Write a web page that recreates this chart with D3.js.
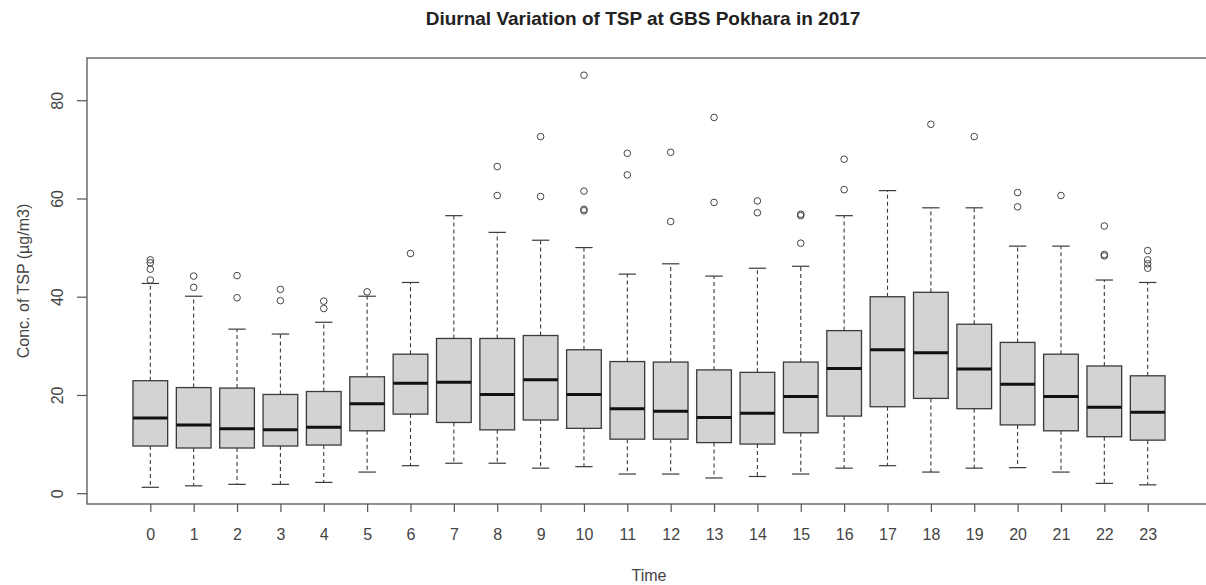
<!DOCTYPE html>
<html>
<head>
<meta charset="utf-8">
<script src="https://cdn.jsdelivr.net/npm/d3@7"></script>
<style>
  body { margin: 0; background: #fff; }
  text { font-family: "Liberation Sans", Arial, sans-serif; }
</style>
</head>
<body>
<div id="chart"></div>
<script>
// hourly boxplot stats (µg/m3)
var hours = d3.range(0, 24);
var lowWhisker = [1.2, 1.5, 1.8, 1.8, 2.2, 4.3, 5.6, 6.1, 6.1, 5.1, 5.4, 3.9, 3.9, 3.1, 3.4, 3.9, 5.1, 5.6, 4.3, 5.1, 5.2, 4.3, 2.0, 1.7];
var q1 = [9.6, 9.2, 9.2, 9.6, 9.8, 12.7, 16.1, 14.4, 12.9, 14.9, 13.2, 11.0, 11.0, 10.3, 10.0, 12.3, 15.7, 17.6, 19.3, 17.2, 13.9, 12.7, 11.5, 10.8];
var medians = [15.3, 13.9, 13.1, 12.9, 13.4, 18.2, 22.4, 22.6, 20.1, 23.1, 20.1, 17.2, 16.7, 15.4, 16.3, 19.7, 25.4, 29.2, 28.6, 25.3, 22.2, 19.7, 17.5, 16.5];
var q3 = [22.9, 21.5, 21.4, 20.1, 20.7, 23.7, 28.3, 31.5, 31.5, 32.1, 29.2, 26.8, 26.7, 25.1, 24.6, 26.7, 33.1, 40.0, 40.9, 34.4, 30.7, 28.3, 25.9, 23.9];
var highWhisker = [42.7, 40.1, 33.4, 32.4, 34.8, 40.1, 42.9, 56.5, 53.1, 51.5, 50.0, 44.6, 46.7, 44.2, 45.8, 46.2, 56.5, 61.6, 58.1, 58.1, 50.3, 50.3, 43.4, 42.9];
var outliers = [
  [47.5, 46.9, 45.6, 43.4],
  [44.2, 41.9],
  [44.3, 39.8],
  [41.5, 39.2],
  [39.1, 37.6],
  [41.0],
  [48.8],
  [],
  [66.5, 60.6],
  [72.6, 60.4],
  [85.1, 61.5, 57.8, 57.5],
  [69.2, 64.8],
  [69.4, 55.3],
  [76.5, 59.2],
  [59.5, 57.1],
  [56.8, 56.5, 50.9],
  [68.0, 61.8],
  [],
  [75.1],
  [72.6],
  [61.2, 58.3],
  [60.6],
  [54.4, 48.6, 48.3],
  [49.4, 47.5, 46.7, 45.8]
];
var yTicks = [0, 20, 40, 60, 80];

var width = 1206,
    height = 585;

var svg = d3.select("#chart")
    .append("svg")
    .attr("width", width)
    .attr("height", height);

var plotL = 87, plotR = 1211, plotT = 58, plotB = 504;

var x = d3.scaleLinear().domain([-1.46, 24.46]).range([plotL, plotR]);
var y = d3.scaleLinear().domain([-2.2, 88.6]).range([plotB, plotT]);

var boxW = x(0.4) - x(-0.4);
var capW = boxW / 2;
var ink = "#3a3a3a";

var data = hours.map(function(h, i) {
  return {h: h, lo: lowWhisker[i], q1: q1[i], med: medians[i], q3: q3[i], hi: highWhisker[i], out: outliers[i]};
});

var box = svg.append("g").selectAll("g.hour")
    .data(data)
    .enter().append("g")
    .attr("class", "hour");

/* whiskers */
box.append("line")
    .attr("x1", function(d) { return x(d.h); })
    .attr("x2", function(d) { return x(d.h); })
    .attr("y1", function(d) { return y(d.q3); })
    .attr("y2", function(d) { return y(d.hi); })
    .attr("stroke", ink).attr("stroke-width", 1.1).attr("stroke-dasharray", "4,3");
box.append("line")
    .attr("x1", function(d) { return x(d.h); })
    .attr("x2", function(d) { return x(d.h); })
    .attr("y1", function(d) { return y(d.q1); })
    .attr("y2", function(d) { return y(d.lo); })
    .attr("stroke", ink).attr("stroke-width", 1.1).attr("stroke-dasharray", "4,3");

/* staples */
["hi", "lo"].forEach(function(k) {
  box.append("line")
      .attr("x1", function(d) { return x(d.h) - capW / 2; })
      .attr("x2", function(d) { return x(d.h) + capW / 2; })
      .attr("y1", function(d) { return y(d[k]); })
      .attr("y2", function(d) { return y(d[k]); })
      .attr("stroke", ink).attr("stroke-width", 1.2);
});

/* boxes */
box.append("rect")
    .attr("x", function(d) { return x(d.h) - boxW / 2; })
    .attr("width", boxW)
    .attr("y", function(d) { return y(d.q3); })
    .attr("height", function(d) { return y(d.q1) - y(d.q3); })
    .attr("fill", "#d3d3d3")
    .attr("stroke", ink)
    .attr("stroke-width", 1.3);

/* medians */
box.append("line")
    .attr("x1", function(d) { return x(d.h) - boxW / 2; })
    .attr("x2", function(d) { return x(d.h) + boxW / 2; })
    .attr("y1", function(d) { return y(d.med); })
    .attr("y2", function(d) { return y(d.med); })
    .attr("stroke", "#111").attr("stroke-width", 3);

/* outliers */
box.selectAll("circle")
    .data(function(d) { return d.out.map(function(v) { return {h: d.h, v: v}; }); })
    .enter().append("circle")
    .attr("cx", function(d) { return x(d.h); })
    .attr("cy", function(d) { return y(d.v); })
    .attr("r", 3.3)
    .attr("fill", "none")
    .attr("stroke", "#444")
    .attr("stroke-width", 1);

/* frame */
svg.append("rect")
    .attr("x", plotL).attr("y", plotT)
    .attr("width", plotR - plotL).attr("height", plotB - plotT)
    .attr("fill", "none").attr("stroke", "#555").attr("stroke-width", 1.3);

/* axes */
var xAxis = svg.append("g")
    .attr("transform", "translate(0," + plotB + ")")
    .call(d3.axisBottom(x).tickValues(hours).tickSize(8).tickPadding(17).tickFormat(d3.format("d")));
xAxis.select(".domain").remove();

var yAxis = svg.append("g")
    .attr("transform", "translate(" + plotL + ",0)")
    .call(d3.axisLeft(y).tickValues(yTicks).tickSize(10));
yAxis.select(".domain").remove();
yAxis.selectAll(".tick text")
    .attr("x", null).attr("dy", null)
    .attr("transform", "translate(-30,0) rotate(-90)")
    .attr("dy", "0.35em")
    .attr("text-anchor", "middle");

svg.selectAll(".tick line").attr("stroke", "#555").attr("stroke-width", 1.2);
svg.selectAll(".tick text")
    .attr("fill", "#444")
    .style("font-size", "16px");

/* titles */
svg.append("text")
    .attr("x", 643).attr("y", 25)
    .attr("text-anchor", "middle")
    .style("font-size", "19px").style("font-weight", "bold")
    .attr("fill", "#222")
    .text("Diurnal Variation of TSP at GBS Pokhara in 2017");

svg.append("text")
    .attr("x", 649).attr("y", 581)
    .attr("text-anchor", "middle")
    .style("font-size", "16px")
    .attr("fill", "#444")
    .text("Time");

svg.append("text")
    .attr("transform", "translate(29," + ((plotT + plotB) / 2) + ") rotate(-90)")
    .attr("text-anchor", "middle")
    .style("font-size", "16px")
    .attr("fill", "#444")
    .text("Conc. of TSP (µg/m3)");
</script>
</body>
</html>
